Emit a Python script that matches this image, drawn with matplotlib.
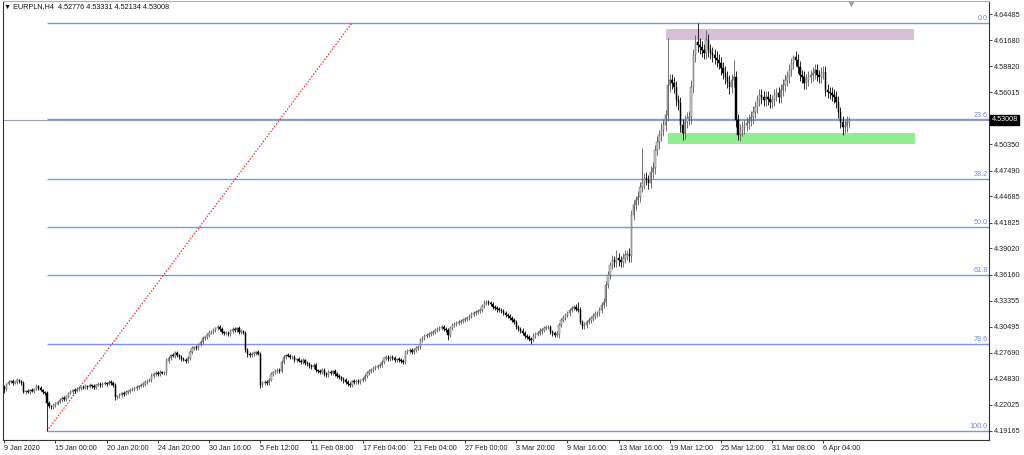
import matplotlib
matplotlib.use('Agg')
import matplotlib.pyplot as plt
import matplotlib.transforms as mtransforms
from matplotlib.patches import Rectangle
import numpy as np

# ---------------- data ----------------
symbol = "EURPLN,H4"
last_ohlc = [4.52776, 4.53331, 4.52134, 4.53008]
first_open = 4.2395

closes = [
    4.2373, 4.2428, 4.2450, 4.2461, 4.2439, 4.2450, 4.2471, 4.2461, 4.2439, 4.2341, 4.2352, 4.2341, 4.2362, 4.2352, 4.2373,
    4.2406, 4.2384, 4.2362, 4.2341, 4.2330, 4.2221, 4.2188, 4.2177, 4.2199, 4.2210, 4.2232, 4.2254, 4.2275, 4.2264, 4.2297,
    4.2330, 4.2341, 4.2362, 4.2352, 4.2373, 4.2384, 4.2395, 4.2384, 4.2406, 4.2395, 4.2417, 4.2406, 4.2395, 4.2417, 4.2428,
    4.2417, 4.2428, 4.2439, 4.2428, 4.2450, 4.2439, 4.2417, 4.2286, 4.2297, 4.2308, 4.2330, 4.2319, 4.2341, 4.2352, 4.2362,
    4.2373, 4.2384, 4.2395, 4.2406, 4.2417, 4.2428, 4.2450, 4.2461, 4.2471, 4.2515, 4.2536, 4.2547, 4.2536, 4.2558, 4.2547,
    4.2547, 4.2678, 4.2710, 4.2743, 4.2732, 4.2765, 4.2743, 4.2721, 4.2699, 4.2689, 4.2678, 4.2710, 4.2776, 4.2819, 4.2830,
    4.2819, 4.2852, 4.2885, 4.2928, 4.2939, 4.2961, 4.2982, 4.2993, 4.3015, 4.3037, 4.3048, 4.3026, 4.2993, 4.2982, 4.2982,
    4.2971, 4.3004, 4.3026, 4.3015, 4.3037, 4.2993, 4.3004, 4.2982, 4.2797, 4.2754, 4.2743, 4.2754, 4.2765, 4.2776, 4.2754,
    4.2417, 4.2439, 4.2450, 4.2439, 4.2471, 4.2536, 4.2558, 4.2569, 4.2580, 4.2569, 4.2667, 4.2721, 4.2743, 4.2732, 4.2721,
    4.2721, 4.2689, 4.2699, 4.2678, 4.2667, 4.2689, 4.2656, 4.2645, 4.2623, 4.2613, 4.2634, 4.2580, 4.2569, 4.2558, 4.2580,
    4.2536, 4.2526, 4.2558, 4.2547, 4.2569, 4.2536, 4.2515, 4.2504, 4.2482, 4.2471, 4.2450, 4.2428, 4.2417, 4.2460, 4.2450,
    4.2460, 4.2450, 4.2471, 4.2482, 4.2515, 4.2547, 4.2569, 4.2580, 4.2602, 4.2613, 4.2623, 4.2634, 4.2667, 4.2710, 4.2721,
    4.2699, 4.2721, 4.2710, 4.2689, 4.2699, 4.2689, 4.2678, 4.2667, 4.2776, 4.2786, 4.2797, 4.2776, 4.2797, 4.2819, 4.2830,
    4.2906, 4.2928, 4.2950, 4.2961, 4.2971, 4.2982, 4.2993, 4.3015, 4.3026, 4.3037, 4.3048, 4.3026, 4.3015, 4.2961, 4.3037,
    4.3069, 4.3080, 4.3091, 4.3102, 4.3113, 4.3124, 4.3135, 4.3146, 4.3167, 4.3189, 4.3200, 4.3211, 4.3222, 4.3232, 4.3276,
    4.3309, 4.3320, 4.3309, 4.3298, 4.3265, 4.3254, 4.3243, 4.3232, 4.3222, 4.3200, 4.3178, 4.3167, 4.3146, 4.3124, 4.3102,
    4.3048, 4.3026, 4.3004, 4.2982, 4.2950, 4.2939, 4.2917, 4.2906, 4.2950, 4.2971, 4.2982, 4.3004, 4.3015, 4.3037, 4.3048,
    4.3048, 4.2993, 4.2982, 4.2961, 4.2971, 4.3069, 4.3124, 4.3146, 4.3178, 4.3200, 4.3232, 4.3254, 4.3265, 4.3243, 4.3232,
    4.3102, 4.3058, 4.3069, 4.3102, 4.3124, 4.3146, 4.3167, 4.3189, 4.3200, 4.3232, 4.3287, 4.3320, 4.3504, 4.3613, 4.3722,
    4.3776, 4.3755, 4.3798, 4.3776, 4.3755, 4.3798, 4.3831, 4.3842, 4.3820, 4.4266, 4.4374, 4.4429, 4.4461, 4.4570,
    4.4614, 4.4668, 4.4646, 4.4614, 4.4733, 4.4777, 4.4973, 4.5060, 4.5136, 4.5190, 4.5245, 4.5353, 4.5680, 4.5734, 4.5701, 4.5658,
    4.5516, 4.5484, 4.5245, 4.5158, 4.5277, 4.5320, 4.5331, 4.5658, 4.6006, 4.6147, 4.6115, 4.6093, 4.6060, 4.6028,
    4.6169, 4.6060, 4.6028, 4.6006, 4.5973, 4.5951, 4.5919, 4.5864, 4.5810, 4.5767, 4.5712, 4.5658, 4.5734, 4.5767, 4.5299,
    4.5136, 4.5190, 4.5223, 4.5245, 4.5266, 4.5299, 4.5331, 4.5386, 4.5440, 4.5516, 4.5571, 4.5549, 4.5516, 4.5549, 4.5527, 4.5495,
    4.5516, 4.5571, 4.5593, 4.5549, 4.5625, 4.5680, 4.5734, 4.5767, 4.5843, 4.5919, 4.5984, 4.5951, 4.5875, 4.5788, 4.5767,
    4.5701, 4.5734, 4.5767, 4.5788, 4.5810, 4.5843, 4.5788, 4.5767, 4.5810, 4.5821, 4.5625, 4.5604, 4.5593, 4.5571, 4.5549,
    4.5495, 4.5386, 4.5277, 4.5223, 4.5234, 4.5277, 4.5301,
]

# upper / lower wick lengths in pips (0.0001)
wick_up = [
    22, 15, 18, 12, 20, 14, 25, 16, 12, 20, 15, 18, 16, 24, 13,
    18, 14, 21, 16, 13, 20, 24, 16, 18, 22, 14, 20, 17, 19, 15,
    16, 21, 14, 19, 24, 17, 13, 18, 20, 15, 22, 16, 19, 14, 21,
    18, 16, 22, 15, 20, 25, 17, 19, 14, 21, 16, 23, 18, 15, 17,
    20, 15, 18, 16, 22, 19, 25, 16, 21, 28, 18, 22, 17, 20, 15,
    19, 30, 22, 16, 21, 25, 18, 15, 20, 17, 23, 19, 26, 21, 16,
    21, 17, 24, 19, 15, 22, 28, 18, 20, 16, 24, 19, 22, 15, 21,
    17, 22, 19, 21, 15, 25, 18, 16, 21, 23, 19, 17, 20, 15, 19,
    24, 18, 21, 16, 22, 19, 15, 21, 25, 17, 19, 22, 16, 20, 18,
    19, 21, 16, 24, 18, 22, 15, 20, 17, 19, 25, 21, 16, 18, 23,
    20, 17, 19, 22, 15, 21, 24, 18, 16, 20, 19, 23, 17, 15, 21,
    18, 21, 16, 25, 19, 22, 20, 17, 18, 24, 21, 19, 23, 16, 20,
    17, 21, 19, 23, 16, 20, 25, 18, 21, 17, 22, 19, 20, 24, 18,
    21, 18, 23, 16, 20, 25, 19, 22, 21, 17, 18, 20, 24, 19, 22,
    19, 23, 21, 17, 25, 20, 18, 22, 21, 24, 19, 20, 17, 23, 27,
    28, 24, 20, 22, 18, 26, 21, 24, 22, 19, 21, 25, 23, 20, 18,
    24, 21, 22, 28, 20, 25, 23, 19, 27, 21, 24, 28, 22, 20, 25,
    22, 26, 21, 25, 30, 23, 20, 28, 24, 22, 26, 21, 25, 28, 77,
    28, 25, 32, 26, 30, 24, 35, 28, 26, 32, 30, 38, 42, 45, 36,
    55, 48, 90, 52, 45, 58, 50, 44, 62, 52, 56, 48, 70, 60,
    381, 55, 62, 50, 68, 60, 55, 65, 58, 72, 66, 60, 511, 68, 60, 64,
    66, 60, 64, 70, 72, 66, 62, 78, 70, 74, 207, 72, 65, 70,
    109, 70, 64, 68, 62, 72, 66, 68, 62, 72, 66, 75, 68, 184, 70,
    64, 60, 66, 58, 64, 60, 70, 64, 66, 60, 70, 64, 66, 60, 64, 58,
    60, 64, 58, 66, 60, 64, 66, 60, 64, 58, 25, 60, 64, 66, 58,
    64, 60, 66, 58, 64, 60, 66, 58, 64, 60, 66, 64, 58, 60, 64,
    60, 64, 58, 66, 60, 64, 33,
]
wick_dn = [
    43, 18, 14, 16, 20, 13, 17, 19, 24, 16, 20, 15, 18, 13, 17,
    16, 21, 13, 19, 22, 305, 26, 24, 18, 20, 16, 15, 22, 19, 17,
    19, 15, 21, 17, 13, 22, 18, 16, 15, 20, 13, 19, 17, 21, 15,
    17, 20, 15, 19, 13, 17, 21, 35, 24, 18, 17, 20, 15, 19, 22,
    15, 19, 17, 21, 13, 19, 17, 22, 15, 19, 20, 17, 24, 18, 16,
    20, 17, 19, 22, 15, 21, 17, 19, 24, 15, 19, 21, 17, 22, 18,
    17, 19, 15, 21, 17, 22, 19, 15, 21, 17, 19, 24, 17, 21, 19,
    21, 17, 19, 24, 17, 19, 22, 15, 21, 28, 19, 17, 21, 19, 16,
    33, 21, 17, 19, 22, 15, 21, 17, 19, 24, 17, 21, 19, 15, 22,
    17, 21, 19, 15, 22, 17, 21, 19, 24, 17, 19, 21, 17, 22, 19,
    19, 22, 17, 21, 24, 19, 17, 21, 19, 28, 22, 19, 17, 21, 19,
    21, 17, 22, 19, 21, 17, 19, 22, 21, 17, 19, 21, 17, 24, 19,
    22, 19, 21, 17, 24, 19, 21, 22, 17, 19, 21, 17, 22, 19, 21,
    19, 21, 17, 22, 19, 21, 17, 19, 22, 21, 19, 17, 21, 55, 19,
    21, 17, 22, 19, 21, 24, 19, 21, 17, 22, 21, 19, 24, 21, 19,
    23, 21, 25, 19, 23, 21, 28, 19, 25, 21, 23, 19, 21, 25, 23,
    21, 25, 23, 19, 27, 21, 23, 40, 21, 25, 23, 21, 28, 23, 21,
    25, 21, 27, 23, 21, 40, 25, 23, 21, 27, 28, 25, 23, 21, 25,
    25, 30, 27, 28, 25, 32, 28, 27, 35, 30, 28, 32, 40, 36, 44,
    48, 55, 52, 62, 50, 56, 58, 52, 70, 62, 56, 52, 58, 55,
    55, 62, 52, 70, 58, 66, 62, 55, 72, 64, 70, 66, 62, 72, 66, 70,
    66, 72, 75, 77, 70, 66, 72, 75, 70, 80, 75, 72, 78, 70,
    70, 72, 66, 75, 70, 72, 66, 75, 70, 72, 66, 75, 70, 72, 78,
    55, 70, 66, 72, 62, 70, 66, 72, 70, 62, 66, 72, 70, 66, 62, 70,
    66, 62, 70, 66, 68, 62, 66, 70, 68, 66, 70, 62, 68, 66, 70,
    66, 70, 62, 68, 66, 70, 62, 68, 66, 70, 62, 68, 66, 70, 62,
    68, 62, 70, 87, 66, 64, 64,
]

time_labels = ["9 Jan 2020", "15 Jan 00:00", "20 Jan 20:00", "24 Jan 20:00", "30 Jan 16:00",
               "5 Feb 12:00", "11 Feb 08:00", "17 Feb 04:00", "21 Feb 04:00", "27 Feb 00:00",
               "3 Mar 20:00", "9 Mar 16:00", "13 Mar 16:00", "19 Mar 12:00", "25 Mar 12:00",
               "31 Mar 08:00", "6 Apr 04:00"]
bars_per_label = 24

price_ticks = [4.64485, 4.61680, 4.58820, 4.56015, 4.50350, 4.47490, 4.44685, 4.41825,
               4.39020, 4.36160, 4.33355, 4.30495, 4.27690, 4.24830, 4.22025, 4.19165]

fib_low, fib_high = 4.1916, 4.6354
fib_low_bar, fib_high_bar = 20, 163
fib_levels = [0.0, 23.6, 38.2, 50.0, 61.8, 78.6, 100.0]

resist_zone = (4.6169, 4.6289)
resist_bars = (310.0, 426.3)
support_zone = (4.5038, 4.5157)
support_bars = (311.0, 426.8)

# ---------------- figure ----------------
W, H = 1024, 455
fig = plt.figure(figsize=(W / 100, H / 100), dpi=100)
fig.patch.set_facecolor('white')
ax = fig.add_axes([3 / W, (H - 440) / H, 986 / W, 439 / H])
ax.set_facecolor('white')

FONT = ['Liberation Sans', 'DejaVu Sans']
FS = 5.2

n = len(closes)
c = np.array(closes)
o = np.r_[first_open, c[:-1]]
hi = np.maximum(o, c) + np.array(wick_up) * 1e-4
lo = np.minimum(o, c) - np.array(wick_dn) * 1e-4
x = np.arange(n)

px_per_bar = 2.133
x0 = -0.6
ax.set_xlim(x0, x0 + 986 / px_per_bar)
ax.set_ylim(4.18186, 4.65931)

# zones (background)
for (y1, y2), (b1, b2), col in [(resist_zone, resist_bars, '#d8bfd8'),
                                 (support_zone, support_bars, '#90ee90')]:
    ax.add_patch(Rectangle((b1, y1), b2 - b1, y2 - y1, facecolor=col, edgecolor='none', zorder=1))

# bid line
ax.axhline(c[-1], color='#9aa0b4', lw=0.8, zorder=1.5)

# fibonacci levels
fib_col = '#7d95ea'
rng = fib_high - fib_low
xr = ax.get_xlim()[1]
blend_ad = mtransforms.blended_transform_factory(ax.transAxes, ax.transData)
for lv in fib_levels:
    p = fib_high - rng * lv / 100.0
    ax.hlines(p, fib_low_bar, xr, color=fib_col, lw=1.0, zorder=2, snap=True)
    ax.text(0.9985, p + 0.0008, f"{lv:.1f}", transform=blend_ad,
            ha='right', va='bottom', fontsize=FS, color='#7088e0', family=FONT, zorder=6)
ax.plot([fib_low_bar, fib_high_bar], [fib_low, fib_high], color='red', lw=0.8, ls=(0, (1.2, 1.6)), zorder=2)

# candles
body_lo = np.minimum(o, c)
body_h = np.maximum(np.abs(c - o), 0.0003)
bull = c >= o
ax.vlines(x[bull], lo[bull], hi[bull], color='#5a5a5a', lw=0.6, zorder=3)
ax.vlines(x[~bull], lo[~bull], hi[~bull], color='black', lw=0.6, zorder=3)
ax.bar(x[bull], body_h[bull], bottom=body_lo[bull], width=0.62, color='#d0d0d0', edgecolor='#5a5a5a', lw=0.35, zorder=4)
ax.bar(x[~bull], body_h[~bull], bottom=body_lo[~bull], width=0.62, color='black', edgecolor='black', lw=0.35, zorder=4)

# axes styling
for s in ax.spines.values():
    s.set_color('#333333')
    s.set_linewidth(0.8)
ax.spines['top'].set_color('#b0b0b0')

ax.set_xticks([i * bars_per_label for i in range(len(time_labels))])
ax.set_xticklabels(time_labels, fontsize=FS, family=FONT, color='#222222')
for lbl in ax.get_xticklabels():
    lbl.set_ha('left')
ax.tick_params(axis='x', length=2.2, width=0.6, pad=1.2, colors='#222222')

ax.yaxis.tick_right()
ax.set_yticks(price_ticks)
ax.set_yticklabels([f"{p:.5f}" for p in price_ticks], fontsize=FS, family=FONT, color='#222222')
ax.tick_params(axis='y', length=2.2, width=0.6, pad=1.0, colors='#222222')

# current price label
ax.text(1.0025, c[-1], f"{last_ohlc[3]:.5f}", transform=blend_ad,
        ha='left', va='center', fontsize=FS, color='white', family=FONT, zorder=10, clip_on=False,
        bbox=dict(boxstyle='square,pad=0.18', fc='black', ec='black'))

# header
fig.text(4 / W, 1 - 7 / H, "\u25bc " + symbol + "  " + " ".join(f"{v:.5f}" for v in last_ohlc),
         ha='left', va='center', fontsize=FS, family=FONT, color='#111111')

# chart shift marker
ax.plot([n - 0.2], [1 - 2.5 / 439], marker='v', ms=4, color='#a0a0a0', mec='none',
        transform=mtransforms.blended_transform_factory(ax.transData, ax.transAxes), clip_on=False, zorder=10)

fig.savefig('out.png', dpi=100, facecolor='white')
